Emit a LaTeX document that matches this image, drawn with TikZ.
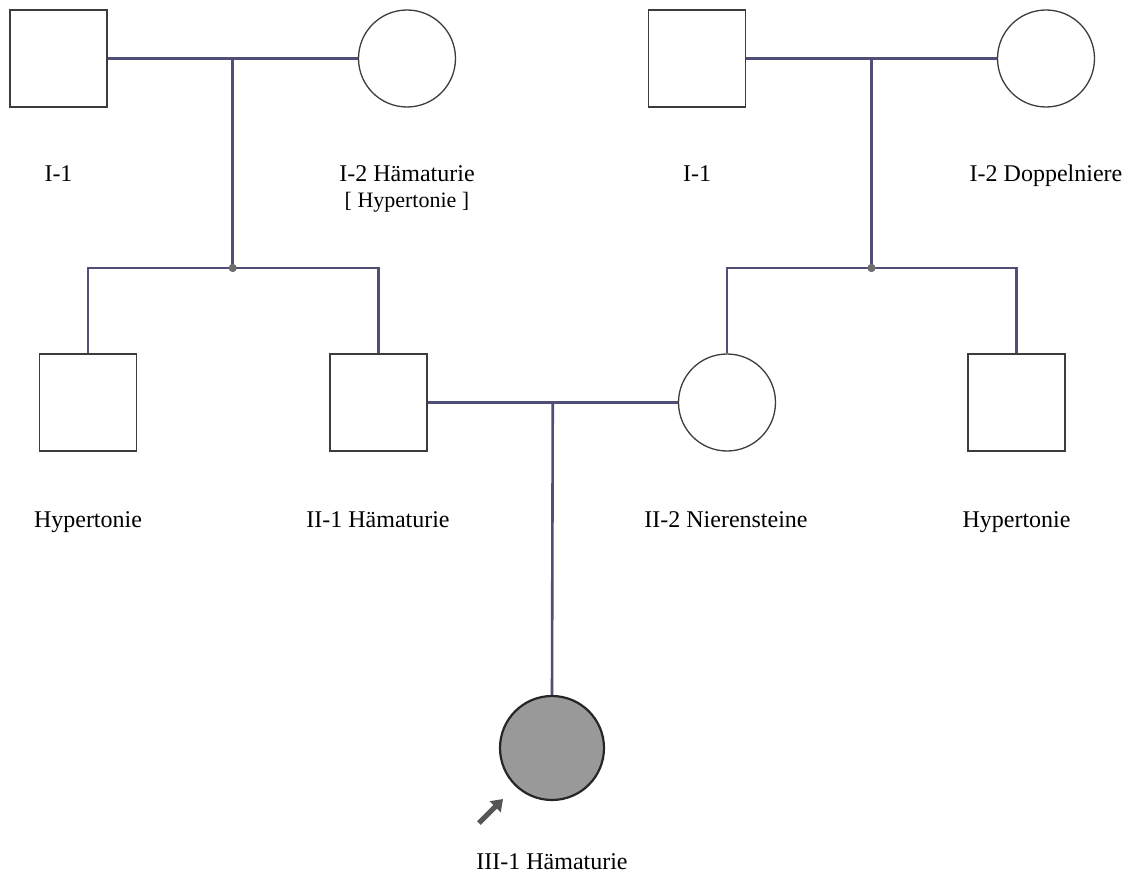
\documentclass[tikz,border=0pt]{standalone}
\usepackage{fontspec}
\setmainfont{Liberation Serif}
\usetikzlibrary{arrows.meta,calc}
\definecolor{linkc}{RGB}{78,78,118}
\definecolor{edgec}{RGB}{60,60,60}
\definecolor{dotc}{RGB}{110,110,110}
\definecolor{affc}{RGB}{153,153,153}
\definecolor{arrc}{RGB}{85,85,85}
\tikzset{
  male/.style={draw=edgec, line width=1.3pt, fill=white, minimum size=97pt, inner sep=0pt, rectangle},
  female/.style={draw=edgec, line width=1.3pt, fill=white, minimum size=97pt, inner sep=0pt, circle},
  affected/.style={draw=black!85, line width=2.2pt, fill=affc, minimum size=104pt, inner sep=0pt, circle},
  link/.style={draw=linkc, line width=2.6pt},
  junction/.style={fill=dotc, circle, inner sep=0pt, minimum size=8pt},
  lbl/.style={anchor=base, font=\fontsize{24pt}{28pt}\selectfont, inner sep=0pt},
  sublbl/.style={anchor=base, font=\fontsize{22pt}{26pt}\selectfont, inner sep=0pt},
  proband/.style={draw=arrc, line width=5pt, -{Triangle[length=11pt,width=15pt]}}
}
\begin{document}
\begin{tikzpicture}[x=1pt,y=-1pt]
\useasboundingbox (0,0) rectangle (1132,877);

% generation I
\node[male]   (Ia)  at (58.5,58.5) {};
\node[female] (Ib)  at (407,58.5) {};
\node[male]   (Ic)  at (697,58.5) {};
\node[female] (Id)  at (1046,58.5) {};

% generation II
\node[male]   (IIa) at (88,402.5) {};
\node[male]   (IIb) at (378.5,402.5) {};
\node[female] (IIc) at (727,402.5) {};
\node[male]   (IId) at (1016.5,402.5) {};

% generation III
\node[affected] (IIIa) at (552,748) {};

% couples and their descent points
\draw[link] (Ia.east) -- (Ib.west);
\coordinate (m1) at ($ (Ia.east)!0.5!(Ib.west) $);
\draw[link] (Ic.east) -- (Id.west);
\coordinate (m2) at ($ (Ic.east)!0.5!(Id.west) $);
\draw[link] (IIb.east) -- (IIc.west);
\coordinate (m3) at ($ (IIb.east)!0.5!(IIc.west) $);

% sibship lines
\node[junction] (s1) at (m1 |- 0,268) {};
\node[junction] (s2) at (m2 |- 0,268) {};
\draw[link] (m1) -- (s1.center);
\draw[link] (m2) -- (s2.center);
\draw[link] (IIa.north) |- (s1.center) -| (IIb.north);
\draw[link] (IIc.north) |- (s2.center) -| (IId.north);
\node[junction] at (s1) {};
\node[junction] at (s2) {};

% descent to the proband
\draw[link] (m3) -- (IIIa.north);

% proband arrow
\coordinate (pa) at (479,823);
\coordinate (pb) at (503,799);
\draw[proband] (pa) -- (pb);

% labels
\node[lbl] (tIa)  at (58.5,182) {I-1};
\node[lbl] (tIb)  at (407,182) {I-2 Hämaturie};
\node[sublbl] (tIb2) at (407,208) {[ Hypertonie ]};
\node[lbl] (tIc)  at (697,182) {I-1};
\node[lbl] (tId)  at (1046,182) {I-2 Doppelniere};
\node[lbl] (tIIa) at (88,527) {Hypertonie};
\node[lbl] (tIIb) at (378,527) {II-1 Hämaturie};
\node[lbl] (tIIc) at (726,527) {II-2 Nierensteine};
\node[lbl] (tIId) at (1016.5,527) {Hypertonie};
\node[lbl] (tIIIa) at (552,869) {III-1 Hämaturie};
\end{tikzpicture}
\end{document}
